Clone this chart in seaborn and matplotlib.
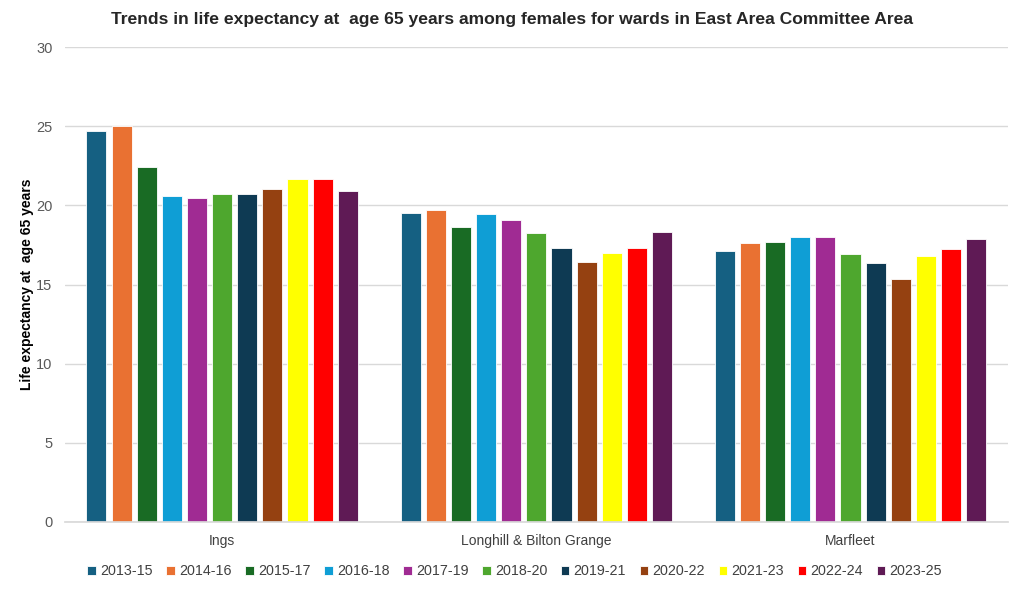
import seaborn as sns
import matplotlib.pyplot as plt
import pandas as pd

# Données
wards = ['Ings', 'Longhill & Bilton Grange', 'Marfleet']
periods = ['2013-15', '2014-16', '2015-17', '2016-18', '2017-19', '2018-20',
           '2019-21', '2020-22', '2021-23', '2022-24', '2023-25']
ings = [24.7, 25.0, 22.4, 20.6, 20.45, 20.75, 20.75, 21.05, 21.65, 21.65, 20.9]
longhill = [19.5, 19.73, 18.65, 19.46, 19.06, 18.26, 17.33, 16.4, 17.01, 17.29, 18.34]
marfleet = [17.1, 17.65, 17.71, 18.02, 17.98, 16.91, 16.38, 15.33, 16.78, 17.25, 17.86]
colors = ['#156082', '#E97132', '#196B24', '#0F9ED5', '#A02B93', '#4EA72E',
          '#0E3A53', '#954111', '#FFFF00', '#FF0000', '#5F1A55']

df = pd.DataFrame({
    'Ward': [w for w in wards for _ in periods],
    'Period': periods * 3,
    'Value': ings + longhill + marfleet,
})

sns.set_theme(style="white")
plt.rcParams['font.family'] = ['Liberation Sans', 'DejaVu Sans']

fig = plt.figure(figsize=(10.24, 5.89), dpi=100)
ax = fig.add_axes([0.0635, 0.1138, 0.9205, 0.8062])

sns.barplot(data=df, x='Ward', y='Value', hue='Period', hue_order=periods,
            palette=colors, saturation=1, width=0.88, gap=0.2,
            edgecolor='white', linewidth=0.6, ax=ax)

ax.set_ylim(0, 30)
ax.set_yticks(range(0, 31, 5))
ax.yaxis.grid(True, color='#D9D9D9', linewidth=1)
ax.set_axisbelow(True)
for s in ['top', 'right', 'left']:
    ax.spines[s].set_visible(False)
ax.spines['bottom'].set_color('#D9D9D9')
ax.tick_params(axis='y', labelsize=10.5, colors='#595959', length=0, pad=9)
ax.tick_params(axis='x', labelsize=10, colors='#404040', length=0, pad=9)
ax.set_xlabel('')
ax.set_ylabel('Life expectancy at  age 65 years', fontsize=10, fontweight='bold',
              color='black')
ax.yaxis.set_label_coords(-0.033, 0.5)
ax.set_xlim(-0.5, 2.5)

fig.suptitle('Trends in life expectancy at  age 65 years among females for wards in East Area Committee Area',
             fontsize=12.6, fontweight='bold', x=0.5, y=0.98)

handles, labels = ax.get_legend_handles_labels()
ax.legend(handles, labels, ncol=11, loc='upper center', bbox_to_anchor=(0.477, -0.062),
          frameon=False, fontsize=10.3, handlelength=0.6, handleheight=0.6,
          handletextpad=0.3, columnspacing=0.95, labelcolor='#404040')

fig.savefig('out.png', dpi=100)
